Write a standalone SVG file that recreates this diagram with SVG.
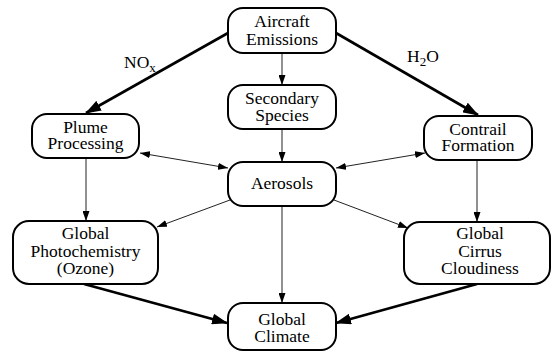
<svg xmlns="http://www.w3.org/2000/svg" width="555" height="353" viewBox="0 0 555 353">
<style>
.box{fill:#fff;stroke:#000;stroke-width:2}
text{font-family:'Liberation Serif','Times New Roman',Times,serif;font-size:17.5px;fill:#000}
.t{text-anchor:middle}
.thick{stroke:#000;stroke-width:2.6;fill:none}
.thin{stroke:#222;stroke-width:1;fill:none}
</style>
<defs>
<marker id="big" markerUnits="userSpaceOnUse" markerWidth="16" markerHeight="11" refX="15" refY="5.5" orient="auto">
<path d="M0,0 L16,5.5 L0,11 z" fill="#000"/>
</marker>
<marker id="small" markerUnits="userSpaceOnUse" markerWidth="10" markerHeight="7" refX="10" refY="3.5" orient="auto-start-reverse">
<path d="M0,0 L10,3.5 L0,7 z" fill="#000"/>
</marker>
</defs>
<rect width="555" height="353" fill="#fff"/>
<g id="connectors">
<line class="thick" x1="228" y1="33" x2="86" y2="113" marker-end="url(#big)"/>
<line class="thick" x1="336" y1="33" x2="478" y2="115" marker-end="url(#big)"/>
<line class="thin" x1="282" y1="53" x2="282" y2="85" marker-end="url(#small)"/>
<line class="thin" x1="282" y1="129" x2="282" y2="162" marker-end="url(#small)"/>
<line class="thin" x1="140" y1="153" x2="228" y2="168" marker-start="url(#small)" marker-end="url(#small)"/>
<line class="thin" x1="336" y1="168" x2="425" y2="153" marker-start="url(#small)" marker-end="url(#small)"/>
<line class="thin" x1="86" y1="158" x2="86" y2="221" marker-end="url(#small)"/>
<line class="thin" x1="477" y1="160" x2="477" y2="222" marker-end="url(#small)"/>
<line class="thin" x1="230" y1="200" x2="157" y2="227" marker-end="url(#small)"/>
<line class="thin" x1="334" y1="200" x2="408" y2="228" marker-end="url(#small)"/>
<line class="thin" x1="282" y1="206" x2="282" y2="303" marker-end="url(#small)"/>
<line class="thick" x1="84" y1="284" x2="227" y2="323" marker-end="url(#big)"/>
<line class="thick" x1="477" y1="284" x2="336" y2="323" marker-end="url(#big)"/>
<text x="124" y="68" font-family="Liberation Serif, serif">NO<tspan font-size="13" dy="4">x</tspan></text>
<text x="407" y="62" font-family="Liberation Serif, serif">H<tspan font-size="13" dy="4">2</tspan><tspan dy="-4">O</tspan></text>
</g>
<g id="aircraft">
<rect class="box" x="228" y="8" width="108" height="45" rx="15"/>
<text class="t" x="282" y="27">Aircraft</text>
<text class="t" x="282" y="45">Emissions</text>
</g>
<g id="secondary">
<rect class="box" x="228" y="85" width="108" height="44" rx="15"/>
<text class="t" x="282" y="104">Secondary</text>
<text class="t" x="282" y="121">Species</text>
</g>
<g id="plume">
<rect class="box" x="32" y="114" width="107" height="44" rx="15"/>
<text class="t" x="85.5" y="133">Plume</text>
<text class="t" x="85.5" y="149">Processing</text>
</g>
<g id="contrail">
<rect class="box" x="424" y="116" width="108" height="44" rx="15"/>
<text class="t" x="478" y="135">Contrail</text>
<text class="t" x="478" y="151">Formation</text>
</g>
<g id="aerosols">
<rect class="box" x="228" y="162" width="108" height="44" rx="15"/>
<text class="t" x="282" y="189">Aerosols</text>
</g>
<g id="photochem">
<rect class="box" x="13" y="221" width="145" height="63" rx="16"/>
<text class="t" x="85.5" y="239">Global</text>
<text class="t" x="85.5" y="257">Photochemistry</text>
<text class="t" x="85.5" y="274">(Ozone)</text>
</g>
<g id="cirrus">
<rect class="box" x="404" y="222" width="146" height="62" rx="16"/>
<text class="t" x="480" y="239">Global</text>
<text class="t" x="480" y="257">Cirrus</text>
<text class="t" x="480" y="274">Cloudiness</text>
</g>
<g id="climate">
<rect class="box" x="228" y="303" width="108" height="47" rx="15"/>
<text class="t" x="282" y="325">Global</text>
<text class="t" x="282" y="342">Climate</text>
</g>
</svg>
